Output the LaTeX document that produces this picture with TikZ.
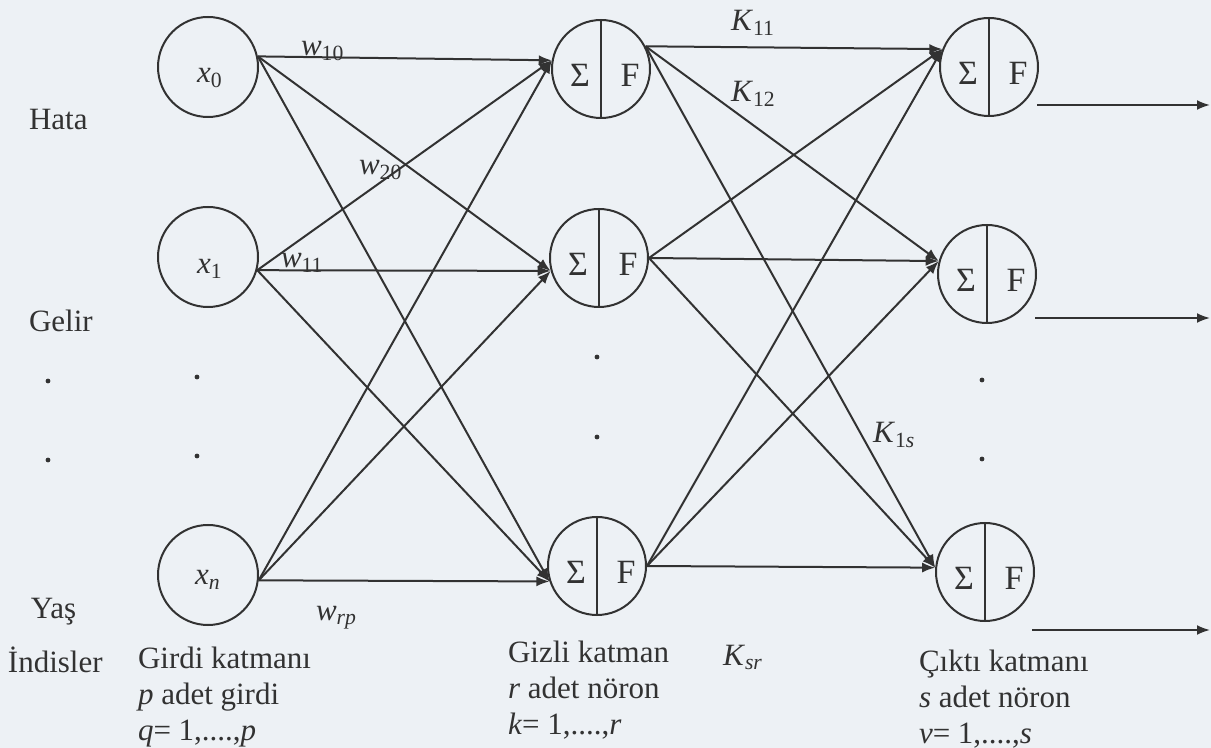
\documentclass[tikz,border=0pt]{standalone}
\usepackage{fontspec}
\setmainfont{Liberation Serif}[Ligatures=TeX]
\usepackage{tikz}
\usetikzlibrary{arrows.meta}
\definecolor{paper}{RGB}{237,241,245}
\definecolor{ink}{RGB}{50,50,50}
\newcommand{\wgt}[2]{\textit{#1}\textsubscript{#2}}

\begin{document}
\begin{tikzpicture}[x=0.5pt, y=-0.5pt, color=ink, line width=1pt,
  font=\fontsize{15.5}{18}\selectfont,
  inp/.style={circle, draw, minimum size=50pt, inner sep=0pt},
  neuron/.style={circle, draw, minimum size=49pt, inner sep=0pt,
    path picture={\draw (path picture bounding box.north) -- (path picture bounding box.south);},
    label={[xshift=-10.5pt, yshift=-3pt, font=\fontsize{17}{20}\selectfont]center:Σ},
    label={[xshift=14.5pt, yshift=-3pt, font=\fontsize{17}{20}\selectfont]center:F}},
  conn/.style={-{Latex[length=6.5pt, width=5pt]}},
  lbl/.style={anchor=base west, inner sep=0pt}]
  \useasboundingbox[fill=paper] (0,0) rectangle (1211,748);

  % Girdi katmani
  \node[inp, label={[xshift=1pt, yshift=-5.5pt]center:\wgt{x}{0}}] (x0) at (208,67) {};
  \node[inp, label={[xshift=1pt, yshift=-6pt]center:\wgt{x}{1}}] (x1) at (208,257) {};
  \node[inp, label={[yshift=-2.5pt]center:\wgt{x}{\textit{n}}}] (xn) at (208,575) {};

  % Gizli katman
  \node[neuron] (h1) at (601,69) {};
  \node[neuron] (h2) at (599,258) {};
  \node[neuron] (h3) at (597,566) {};

  % Cikti katmani
  \node[neuron] (o1) at (989,67) {};
  \node[neuron] (o2) at (987,274) {};
  \node[neuron] (o3) at (985,572) {};

  % Baglantilar
  \foreach \s/\sa in {x0/12, x1/-15, xn/-6}
    \foreach \t/\ta in {h1/170, h2/195, h3/198}
      \draw[conn] (\s.\sa) -- (\t.\ta);
  \foreach \s/\sa in {h1/27, h2/0, h3/0}
    \foreach \t/\ta in {o1/159, o2/165, o3/175}
      \draw[conn] (\s.\sa) -- (\t.\ta);

  % Ciktilar
  \coordinate (y1s) at (1037,105);  \coordinate (y1) at (1210,105);
  \coordinate (y2s) at (1035,318);  \coordinate (y2) at (1210,318);
  \coordinate (y3s) at (1032,630);  \coordinate (y3) at (1210,630);
  \draw[conn] (y1s) -- (y1);
  \draw[conn] (y2s) -- (y2);
  \draw[conn] (y3s) -- (y3);

  % Agirliklar
  \node[lbl] (w10) at (300,56) {\wgt{w}{10}};
  \node[lbl] (w20) at (358,175) {\wgt{w}{20}};
  \node[lbl] (w11) at (280,268) {\wgt{w}{11}};
  \node[lbl] (wrp) at (315,620) {\wgt{w}{\textit{rp}}};
  \node[lbl] (k11) at (730,31) {\wgt{K}{11}};
  \node[lbl] (k12) at (730,102) {\wgt{K}{12}};
  \node[lbl] (k1s) at (872,443) {\wgt{K}{1\textit{s}}};
  \node[lbl] (ksr) at (722,665) {\wgt{K}{\textit{sr}}};

  % Noktalar
  \foreach \p in {(48,381), (48,460), (197,377), (197,456),
                  (597,357), (597,437), (982,380), (982,459)}
    \fill \p circle (1.2pt);

  % Degiskenler
  \node[lbl] (hata) at (28,130) {Hata};
  \node[lbl] (gelir) at (28,332) {Gelir};
  \node[lbl] (yas) at (30,618) {Yaş};
  \node[lbl] (indis) at (7,673) {İndisler};

  % Katman aciklamalari
  \node[anchor=north west, inner sep=0pt, align=left] (girdi) at (137,646)
    {Girdi katmanı\\\textit{p} adet girdi\\\textit{q}= 1,....,\textit{p}};
  \node[anchor=north west, inner sep=0pt, align=left] (gizli) at (507,640)
    {Gizli katman\\\textit{r} adet nöron\\\textit{k}= 1,....,\textit{r}};
  \node[anchor=north west, inner sep=0pt, align=left] (cikti) at (918,649)
    {Çıktı katmanı\\\textit{s} adet nöron\\\textit{v}= 1,....,\textit{s}};
\end{tikzpicture}
\end{document}
